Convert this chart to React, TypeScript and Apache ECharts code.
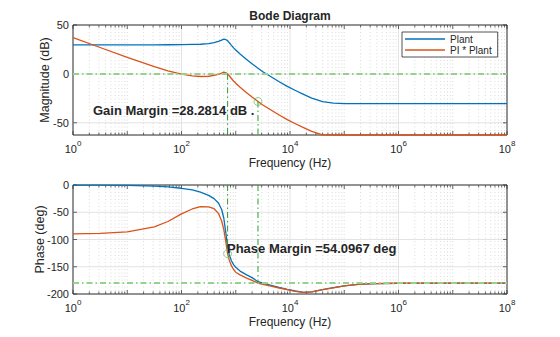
import React, { useEffect, useRef } from 'react';
import * as echarts from 'echarts';

// ---- data ----
const freqHz = [1, 3.16, 10, 31.6, 56.2, 100, 158, 224, 316, 398, 479, 550, 603, 661, 708, 759, 832, 912, 1000, 1202, 1585, 1995, 2570, 3162, 4467, 6310, 8913, 12589, 17783, 25119, 39811, 63096, 1e5, 2e5, 3.98e5, 1e6, 1e7, 1e8];
const plantMagDb = [29.6, 29.6, 29.6, 29.7, 29.8, 29.9, 30.1, 30.3, 31.0, 32.0, 33.2, 34.6, 35.5, 35.0, 33.9, 32.0, 29.2, 26.6, 24.4, 20.3, 14.8, 10.4, 5.8, 2.2, -3.0, -8.0, -12.8, -17.0, -21.0, -24.8, -28.3, -29.9, -30.4, -30.5, -30.5, -30.5, -30.5, -30.5];
const piPlantMagDb = [37.0, 27.0, 17.0, 7.4, 3.1, -0.35, -2.0, -2.65, -2.4, -1.6, -0.55, 0.8, 1.7, 1.1, 0.0, -1.9, -4.7, -7.3, -9.5, -13.7, -19.2, -23.6, -28.2, -31.8, -37.0, -42.0, -46.8, -51.0, -55.0, -58.8, -62.3, -62.5, -62.5, -62.5, -62.5, -62.5, -62.5, -62.5];
const plantPhaseDeg = [-0.1, -0.3, -0.8, -2, -3.5, -6, -9, -13, -19, -25, -33, -45, -61, -90, -114, -128, -139, -146, -151, -158, -165, -170, -177.4, -180, -184, -188, -191.5, -194.5, -197, -196, -192, -188.5, -185, -182, -181, -180.3, -180, -180];
const piPlantPhaseDeg = [-89.6, -88.8, -86, -77, -67, -53, -44, -39.5, -40, -43.5, -52, -66, -82, -106, -126, -138, -148, -155, -160, -165, -171, -175, -180, -182.5, -185.5, -189, -192, -195, -197.2, -196.2, -192.1, -188.6, -185.1, -182, -181, -180.3, -180, -180];

const gainMarginDb = 28.2814;
const phaseMarginDeg = 54.0967;
const gainCrossHz = 708;   // |L| = 0 dB
const phaseCrossHz = 2570; // angle L = -180 deg

const magGridDb = [-50, 0, 50];
const phaseGridDeg = [-200, -150, -100, -50, 0];
const seriesNames = ['Plant', 'PI * Plant'];

// ---- styling ----
const FONT = "'Liberation Sans', Arial, Helvetica, sans-serif";
const INK = '#262626';
const BLUE = '#0072BD';
const ORANGE = '#D95319';
const GREEN_V = '#2A9F2A';
const GREEN_H = '#94D38C';
const MARKER = '#6CC36C';
const MAG_MIN = -62.5;
const MAG_MAX = 50;
const F_MIN = 1;
const F_MAX = 1e8;

const tickFreqs: number[] = [];
for (let k = 0; k < 8; k++) {
  for (let m = 1; m <= 9; m++) tickFreqs.push(m * Math.pow(10, k));
}
tickFreqs.push(F_MAX);

const xDecor = (params: any, api: any) => {
  const f = api.value(0);
  const cs = params.coordSys;
  const x = api.coord([f, api.value(1)])[0];
  const e = Math.log10(f);
  const isDecade = Math.abs(e - Math.round(e)) < 1e-9;
  const isMajor = isDecade && Math.round(e) % 2 === 0;
  const children: any[] = [];
  if (x > cs.x + 0.5 && x < cs.x + cs.width - 0.5) {
    children.push({
      type: 'line',
      shape: { x1: x, y1: cs.y, x2: x, y2: cs.y + cs.height },
      style: isMajor
        ? { stroke: '#DCDCDC', lineWidth: 0.8 }
        : { stroke: '#D2D2D2', lineWidth: 0.8, lineDash: [1, 2.5] },
    });
  }
  const len = isDecade ? 4 : 2.5;
  children.push({ type: 'line', shape: { x1: x, y1: cs.y + cs.height, x2: x, y2: cs.y + cs.height - len }, style: { stroke: INK, lineWidth: 0.7 } });
  children.push({ type: 'line', shape: { x1: x, y1: cs.y, x2: x, y2: cs.y + len }, style: { stroke: INK, lineWidth: 0.7 } });
  return { type: 'group', children };
};

const yDecor = (params: any, api: any) => {
  const v = api.value(1);
  const cs = params.coordSys;
  const y = api.coord([api.value(0), v])[1];
  const children: any[] = [];
  if (y > cs.y + 0.5 && y < cs.y + cs.height - 0.5) {
    children.push({ type: 'line', shape: { x1: cs.x, y1: y, x2: cs.x + cs.width, y2: y }, style: { stroke: '#DCDCDC', lineWidth: 0.8 } });
  }
  children.push({ type: 'line', shape: { x1: cs.x, y1: y, x2: cs.x + 4, y2: y }, style: { stroke: INK, lineWidth: 0.7 } });
  children.push({ type: 'line', shape: { x1: cs.x + cs.width - 4, y1: y, x2: cs.x + cs.width, y2: y }, style: { stroke: INK, lineWidth: 0.7 } });
  return { type: 'group', children };
};

const xAxis = (gridIndex: number) => ({
  type: 'log',
  logBase: 10,
  gridIndex,
  min: F_MIN,
  max: F_MAX,
  name: 'Frequency (Hz)',
  nameLocation: 'middle',
  nameGap: 22,
  nameMoveOverlap: false,
  nameTextStyle: { color: INK, fontFamily: FONT, fontSize: 12 },
  axisLine: { show: false },
  axisTick: { show: false },
  splitLine: { show: false },
  axisLabel: {
    margin: 4,
    color: INK,
    formatter: (v: number) => {
      const e = Math.round(Math.log10(v));
      return e % 2 === 0 ? `{b|10}{s|${e}}` : '';
    },
    rich: {
      b: { fontFamily: FONT, fontSize: 11, color: INK, lineHeight: 15, verticalAlign: 'bottom' },
      s: { fontFamily: FONT, fontSize: 8, color: INK, lineHeight: 8, verticalAlign: 'top' },
    },
  },
});

const lineSeries = (name: string, values: number[], color: string, xi: number, extra: any = {}) => ({
  name,
  type: 'line',
  xAxisIndex: xi,
  yAxisIndex: xi,
  data: freqHz.map((f, i) => [f, values[i]]),
  showSymbol: false,
  symbol: 'none',
  smooth: false,
  lineStyle: { color, width: 1.3, join: 'round' },
  itemStyle: { color },
  z: 3,
  ...extra,
});

const marginLine = (pts: number[][], xi: number, color: string, width: number) => ({
  type: 'line',
  xAxisIndex: xi,
  yAxisIndex: xi,
  data: pts,
  symbol: 'none',
  silent: true,
  lineStyle: { color, width, type: [6, 3, 1.5, 3] },
  z: 4,
});

function buildOption(): any {
  return {
    animation: false,
    backgroundColor: '#ffffff',
    textStyle: { fontFamily: FONT },
    grid: [
      { left: 73, right: 53, top: 25, height: 110, show: true, borderColor: INK, borderWidth: 1, backgroundColor: '#fff' },
      { left: 73, right: 53, top: 185, height: 109, show: true, borderColor: INK, borderWidth: 1, backgroundColor: '#fff' },
    ],
    xAxis: [xAxis(0), xAxis(1)],
    yAxis: [
      {
        type: 'value', gridIndex: 0, min: MAG_MIN, max: MAG_MAX, interval: 12.5,
        name: 'Magnitude (dB)', nameLocation: 'middle', nameGap: 22, nameMoveOverlap: false,
        nameTextStyle: { color: INK, fontFamily: FONT, fontSize: 12.5 },
        axisLine: { show: false }, axisTick: { show: false }, splitLine: { show: false },
        axisLabel: {
          margin: 4, color: INK, fontFamily: FONT, fontSize: 11,
          formatter: (v: number) => (magGridDb.indexOf(v) >= 0 ? String(v) : ''),
        },
      },
      {
        type: 'value', gridIndex: 1, min: -200, max: 0, interval: 50,
        name: 'Phase (deg)', nameLocation: 'middle', nameGap: 27, nameMoveOverlap: false,
        nameTextStyle: { color: INK, fontFamily: FONT, fontSize: 12.5 },
        axisLine: { show: false }, axisTick: { show: false }, splitLine: { show: false },
        axisLabel: { margin: 4, color: INK, fontFamily: FONT, fontSize: 11 },
      },
    ],
    legend: {
      data: seriesNames,
      orient: 'vertical',
      left: 402,
      top: 32,
      icon: 'rect',
      itemWidth: 40,
      itemHeight: 1.5,
      itemGap: 1,
      padding: [2, 6, 2, 3],
      backgroundColor: '#fff',
      borderColor: INK,
      borderWidth: 0.8,
      selectedMode: false,
      textStyle: { fontFamily: FONT, fontSize: 10, color: INK },
    },
    graphic: [
      {
        type: 'text', x: 290, y: 16, silent: true,
        style: { text: 'Bode Diagram', font: `bold 12px ${FONT}`, fill: INK, align: 'center', verticalAlign: 'middle', textAlign: 'center', textVerticalAlign: 'middle' },
      },
      {
        type: 'text', x: 93, y: 110, silent: true, z: 10,
        style: { text: `Gain Margin =${gainMarginDb} dB .`, font: `bold 13px ${FONT}`, fill: INK, align: 'left', verticalAlign: 'middle', textAlign: 'left', textVerticalAlign: 'middle' },
      },
      {
        type: 'text', x: 227, y: 248, silent: true, z: 10,
        style: { text: `Phase Margin =${phaseMarginDeg} deg`, font: `bold 13px ${FONT}`, fill: INK, align: 'left', verticalAlign: 'middle', textAlign: 'left', textVerticalAlign: 'middle' },
      },
    ],
    series: [
      { type: 'custom', xAxisIndex: 0, yAxisIndex: 0, renderItem: xDecor, data: tickFreqs.map((f) => [f, 0]), silent: true, z: 1, clip: false },
      { type: 'custom', xAxisIndex: 0, yAxisIndex: 0, renderItem: yDecor, data: magGridDb.map((v) => [F_MIN, v]), silent: true, z: 1, clip: false },
      { type: 'custom', xAxisIndex: 1, yAxisIndex: 1, renderItem: xDecor, data: tickFreqs.map((f) => [f, 0]), silent: true, z: 1, clip: false },
      { type: 'custom', xAxisIndex: 1, yAxisIndex: 1, renderItem: yDecor, data: phaseGridDeg.map((v) => [F_MIN, v]), silent: true, z: 1, clip: false },

      lineSeries(seriesNames[0], plantMagDb, BLUE, 0),
      lineSeries(seriesNames[1], piPlantMagDb, ORANGE, 0, { clip: false }),
      lineSeries(seriesNames[0], plantPhaseDeg, BLUE, 1),
      lineSeries(seriesNames[1], piPlantPhaseDeg, ORANGE, 1),

      marginLine([[F_MIN, 0], [F_MAX, 0]], 0, GREEN_H, 2),
      marginLine([[gainCrossHz, 0], [gainCrossHz, MAG_MIN]], 0, GREEN_V, 1),
      marginLine([[phaseCrossHz, -gainMarginDb], [phaseCrossHz, MAG_MIN]], 0, GREEN_V, 1),
      marginLine([[F_MIN, -180], [F_MAX, -180]], 1, GREEN_H, 2),
      marginLine([[gainCrossHz, 0], [gainCrossHz, -180 + phaseMarginDeg]], 1, GREEN_V, 1),
      marginLine([[phaseCrossHz, 0], [phaseCrossHz, -180]], 1, GREEN_V, 1),

      {
        type: 'scatter', xAxisIndex: 0, yAxisIndex: 0, data: [[phaseCrossHz, -gainMarginDb]],
        symbol: 'circle', symbolSize: 8, silent: true, z: 5,
        itemStyle: { color: 'rgba(0,0,0,0)', borderColor: MARKER, borderWidth: 1 },
      },
      {
        type: 'scatter', xAxisIndex: 1, yAxisIndex: 1, data: [[gainCrossHz, -180 + phaseMarginDeg]],
        symbol: 'circle', symbolSize: 8, silent: true, z: 5,
        itemStyle: { color: 'rgba(0,0,0,0)', borderColor: MARKER, borderWidth: 1 },
      },
    ],
  };
}

export default function App() {
  const ref = useRef<HTMLDivElement>(null);
  useEffect(() => {
    if (!ref.current) return;
    const chart = echarts.init(ref.current, null, { renderer: 'svg' });
    chart.setOption(buildOption());
    return () => chart.dispose();
  }, []);
  return (
    <div
      ref={ref}
      style={{ position: 'fixed', left: 0, top: 0, width: 560, height: 337, background: '#fff' }}
    />
  );
}
